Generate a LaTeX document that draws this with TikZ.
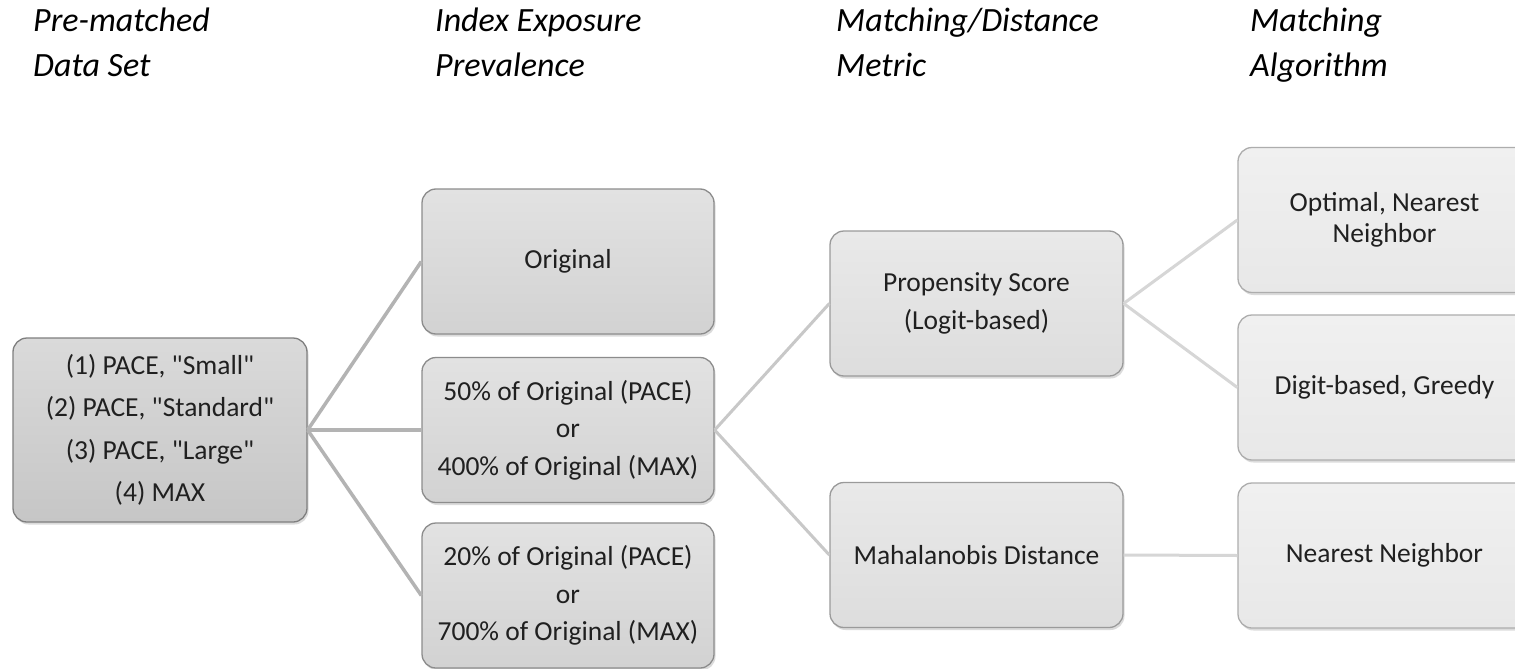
\documentclass[tikz,border=0pt]{standalone}
\usepackage{fontspec}
\newfontfamily\carl{Carlito}
\usetikzlibrary{shadows}

\definecolor{txt}{HTML}{202020}
\definecolor{fillA1}{HTML}{DADADA}\definecolor{fillA2}{HTML}{C6C6C6}\definecolor{lineA}{HTML}{7F7F7F}
\definecolor{fillB1}{HTML}{E2E2E2}\definecolor{fillB2}{HTML}{D2D2D2}\definecolor{lineB}{HTML}{8C8C8C}
\definecolor{fillC1}{HTML}{E9E9E9}\definecolor{fillC2}{HTML}{DDDDDD}\definecolor{lineC}{HTML}{9A9A9A}
\definecolor{fillD1}{HTML}{F0F0F0}\definecolor{fillD2}{HTML}{E8E8E8}\definecolor{lineD}{HTML}{ADADAD}
\definecolor{linkA}{HTML}{B3B3B3}
\definecolor{linkB}{HTML}{C8C8C8}
\definecolor{linkC}{HTML}{D6D6D6}

\tikzset{
  box/.style={rectangle, rounded corners=14pt, line width=1.3pt,
    align=center, text=txt, inner sep=0pt,
    font=\carl\fontsize{27.5}{37.5}\selectfont,
    drop shadow={opacity=0.28, shadow xshift=1.5pt, shadow yshift=-2.5pt}},
  boxA/.style={box, draw=lineA, top color=fillA1, bottom color=fillA2,
    minimum width=294pt, minimum height=184pt},
  boxB/.style={box, draw=lineB, top color=fillB1, bottom color=fillB2,
    minimum width=292pt, minimum height=145pt},
  boxC/.style={box, draw=lineC, top color=fillC1, bottom color=fillC2,
    minimum width=293pt, minimum height=145pt},
  boxD/.style={box, draw=lineD, top color=fillD1, bottom color=fillD2,
    minimum width=293pt, minimum height=145pt},
  head/.style={anchor=base west, align=left, text=black, inner sep=0pt,
    font=\carl\itshape\fontsize{34}{45}\selectfont},
  linkone/.style={draw=linkA, line width=3.5pt},
  linktwo/.style={draw=linkB, line width=3pt},
  linkthree/.style={draw=linkC, line width=3pt},
}

\begin{document}
\begin{tikzpicture}[x=1pt, y=-1pt]
\clip (0,0) rectangle (1515,669);
\fill[white] (0,0) rectangle (1515,669);

% column headings (anchored on the baseline of their second line)
\node[head] (h1) at (33,77) {Pre-matched\\Data Set};
\node[head] (h2) at (435,77) {Index Exposure\\Prevalence};
\node[head] (h3) at (836,77) {Matching/Distance\\Metric};
\node[head] (h4) at (1250,77) {Matching\\Algorithm};

% data sets
\node[boxA, font=\carl\fontsize{27.5}{42.5}\selectfont] (data) at (160,430)
  {(1) PACE, "Small"\\(2) PACE, "Standard"\\(3) PACE, "Large"\\(4) MAX};

% exposure prevalence
\node[boxB] (orig) at (568,261.5) {Original};
\node[boxB] (half) at (568,430) {50\% of Original (PACE)\\or\\400\% of Original (MAX)};
\node[boxB] (fifth) at (568,595.5) {20\% of Original (PACE)\\or\\700\% of Original (MAX)};

% distance metrics
\node[boxC] (prop) at (976.5,303.5) {Propensity Score\\(Logit-based)};
\node[boxC] (maha) at (976.5,555) {Mahalanobis Distance};

% matching algorithms
\node[boxD, font=\carl\fontsize{27.5}{31}\selectfont] (optm) at (1384.5,220) {Optimal, Nearest\\Neighbor};
\node[boxD] (digit) at (1384.5,387.5) {Digit-based, Greedy};
\node[boxD] (near) at (1384.5,555.5) {Nearest Neighbor};

% connectors
\path[linkone] (data.east) -- (orig.west);
\path[linkone] (data.east) -- (half.west);
\path[linkone] (data.east) -- (fifth.west);
\path[linktwo] (half.east) -- (prop.west);
\path[linktwo] (half.east) -- (maha.west);
\path[linkthree] (prop.east) -- (optm.west);
\path[linkthree] (prop.east) -- (digit.west);
\path[linkthree] (maha.east) -- (near.west);
\end{tikzpicture}
\end{document}
